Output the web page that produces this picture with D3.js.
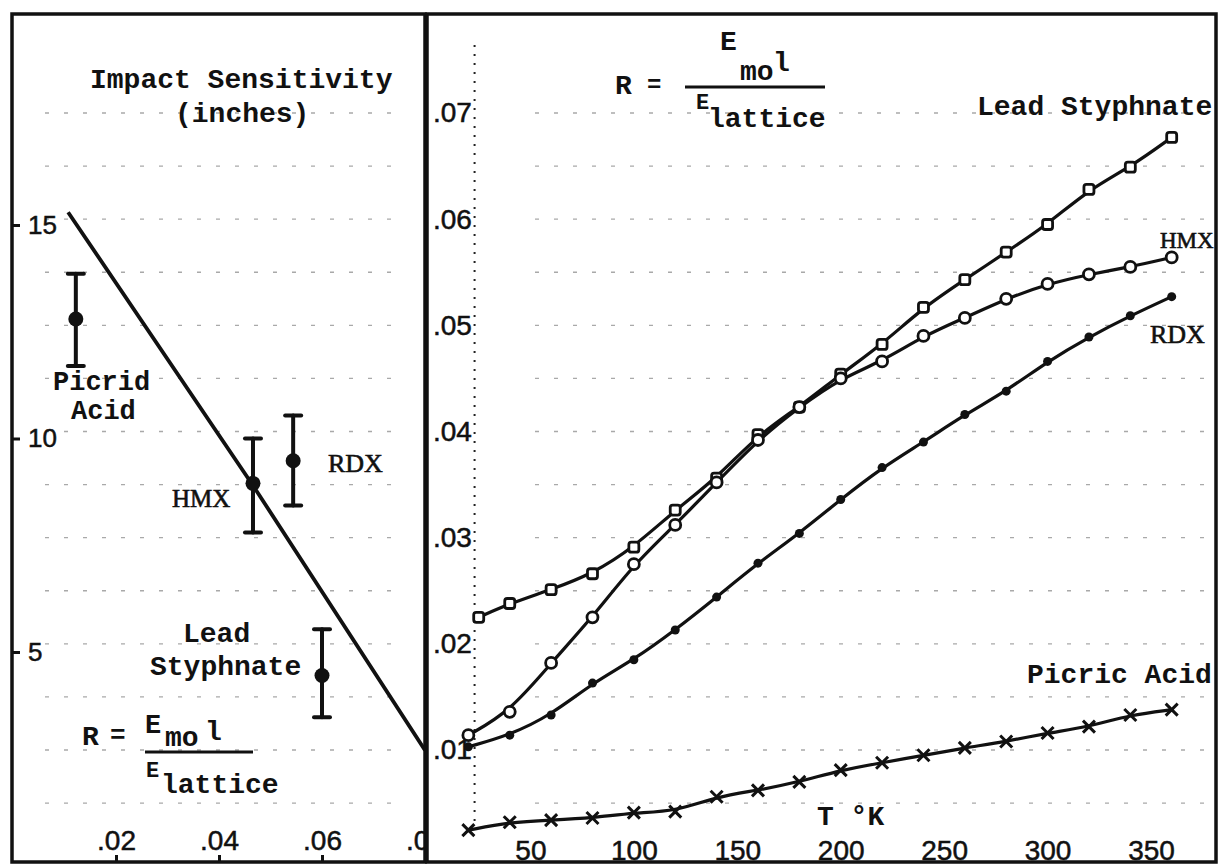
<!DOCTYPE html>
<html><head><meta charset="utf-8">
<script src="https://cdn.jsdelivr.net/npm/d3@7"></script>
<style>
body{margin:0;background:#fff}
.mono{font-family:"Liberation Mono","Courier New",monospace;font-weight:bold;fill:#111}
.serif{font-family:"Liberation Serif","Times New Roman",serif;fill:#111;stroke:#111;stroke-width:0.6}
.tick text{font-family:"Liberation Sans",Arial,sans-serif;fill:#111;stroke:#111;stroke-width:0.5}
</style>
</head><body>
<svg id="c" width="1221" height="865"></svg>
<script>
// ---------- Left panel: impact sensitivity vs R ----------
const leftXTicks = [0.02, 0.04, 0.06, 0.08];
const leftXTickLabels = [".02", ".04", ".06", ".08"];
const leftYTicks = [5, 10, 15];
const leftYTickLabels = ["5", "10", "15"];
const compounds = ["Picric Acid", "HMX", "RDX", "Lead Styphnate"];
const compoundR = [0.0122, 0.0466, 0.0544, 0.0600];
const impactMean = [12.8, 8.95, 9.48, 4.45];
const impactHigh = [13.86, 10.0, 10.54, 5.53];
const impactLow = [11.7, 7.8, 8.43, 3.47];
const fitR = [0.0107, 0.0466, 0.0800];
const fitImpact = [15.3, 8.9, 2.7];

// ---------- Right panel: R vs temperature ----------
const temperatures = [20,40,60,80,100,120,140,160,180,200,220,240,260,280,300,320,340,360];
const styphnateTemps = [25,40,60,80,100,120,140,160,180,200,220,240,260,280,300,320,340,360];
const leadStyphnateR = [0.0225,0.0238,0.0251,0.0266,0.0291,0.0326,0.0356,0.0397,0.0423,0.0454,0.0482,0.0517,0.0543,0.0569,0.0595,0.0628,0.0649,0.0677];
const hmxR = [0.0114,0.0136,0.0182,0.0225,0.0275,0.0312,0.0352,0.0392,0.0423,0.0450,0.0466,0.0490,0.0507,0.0525,0.0539,0.0548,0.0555,0.0564];
const rdxR = [0.0103,0.0114,0.0133,0.0163,0.0185,0.0213,0.0244,0.0276,0.0304,0.0336,0.0366,0.0390,0.0416,0.0438,0.0466,0.0489,0.0509,0.0527];
const picricR = [0.00245,0.0032,0.0034,0.0036,0.0041,0.0042,0.0056,0.0062,0.0070,0.0081,0.0088,0.0095,0.0102,0.0108,0.0116,0.0122,0.0133,0.0138];
const rightXTicks = [50,100,150,200,250,300,350];
const rightYTicks = [0.01,0.02,0.03,0.04,0.05,0.06,0.07];
const rightYTickLabels = [".01",".02",".03",".04",".05",".06",".07"];
const gridR = [0.005,0.01,0.015,0.02,0.025,0.03,0.035,0.04,0.045,0.05,0.055,0.06,0.065,0.07];

const svg = d3.select("#c");
svg.append("rect").attr("width",1221).attr("height",865).attr("fill","#fff");

const xL = d3.scaleLinear().domain([0,0.08]).range([13,425]);
const yL = d3.scaleLinear().domain([0,15]).range([865.5,225]);
const xR = d3.scaleLinear().domain([0,350]).range([427,1151]);
const yR = d3.scaleLinear().domain([0.01,0.07]).range([750,113]);

const defs = svg.append("defs");
defs.append("clipPath").attr("id","clipL").append("rect").attr("x",12).attr("y",14).attr("width",413).attr("height",848);
defs.append("clipPath").attr("id","clipR").append("rect").attr("x",427).attr("y",14).attr("width",789).attr("height",848);

// faint graph-paper dashes (shared across panels)
const grid = svg.append("g").attr("stroke","#555").attr("stroke-width",1.3).attr("stroke-dasharray","4,15").attr("opacity",0.5);
gridR.forEach(r => {
  const y = yR(r);
  if (y < 40 || y > 840) return;
  grid.append("line").attr("x1",45).attr("x2",405).attr("y1",y).attr("y2",y);
  grid.append("line").attr("x1",535).attr("x2",1205).attr("y1",y).attr("y2",y);
});

// ================= LEFT PANEL =================
const gL = svg.append("g").attr("clip-path","url(#clipL)");

const axL = gL.append("g").attr("transform","translate(12,0)")
  .call(d3.axisRight(yL).tickValues(leftYTicks).tickFormat((d,i)=>leftYTickLabels[i]).tickSize(8).tickPadding(8));
axL.select(".domain").remove();
axL.selectAll("line").attr("stroke","#111").attr("stroke-width",3);
axL.selectAll("text").attr("font-size",26);

const axLB = gL.append("g").attr("transform","translate(0,862)")
  .call(d3.axisTop(xL).tickValues(leftXTicks).tickFormat((d,i)=>leftXTickLabels[i]).tickSize(7).tickPadding(5));
axLB.select(".domain").remove();
axLB.selectAll("line").attr("stroke","#111").attr("stroke-width",3);
axLB.selectAll("text").attr("font-size",28);

// fitted line
const fitLine = d3.line().x((d,i)=>xL(fitR[i])).y((d,i)=>yL(fitImpact[i]));
gL.append("path").attr("d",fitLine(fitR)).attr("fill","none").attr("stroke","#111").attr("stroke-width",3.8);

// error bars
compounds.forEach((c,i) => {
  const x = xL(compoundR[i]);
  const g = gL.append("g").attr("stroke","#111").attr("stroke-width",4).attr("stroke-linecap","round");
  g.append("line").attr("x1",x).attr("x2",x).attr("y1",yL(impactHigh[i])).attr("y2",yL(impactLow[i]));
  g.append("line").attr("x1",x-8).attr("x2",x+8).attr("y1",yL(impactHigh[i])).attr("y2",yL(impactHigh[i]));
  g.append("line").attr("x1",x-8).attr("x2",x+8).attr("y1",yL(impactLow[i])).attr("y2",yL(impactLow[i]));
  gL.append("circle").attr("cx",x).attr("cy",yL(impactMean[i])).attr("r",7.5).attr("fill","#111");
});

const T = (g, txt, x, y, cls, size, anchor) => g.append("text").attr("class",cls).attr("x",x).attr("y",y)
  .attr("font-size",size).attr("text-anchor",anchor||"start").text(txt);
T(gL,"Impact Sensitivity",90,88,"mono",28);
T(gL,"(inches)",175,122,"mono",28);
T(gL,"Picrid",53,390,"mono",27);
T(gL,"Acid",71,419,"mono",27);
T(gL,"HMX",172,507,"serif",25);
T(gL,"RDX",328,472,"serif",26);
T(gL,"Lead",183,642,"mono",28);
T(gL,"Styphnate",150,675,"mono",28);
T(gL,"R",82,745,"mono",28);
T(gL,"=",110,743,"mono",26);
T(gL,"E",145,733,"mono",27);
T(gL,"mo",165,746,"mono",28);
T(gL,"l",205,740,"mono",28);
gL.append("line").attr("x1",145).attr("x2",253).attr("y1",752).attr("y2",752).attr("stroke","#111").attr("stroke-width",3);
T(gL,"E",146,777,"mono",22);
T(gL,"lattice",161,793,"mono",28);

// ================= RIGHT PANEL =================
const gR = svg.append("g").attr("clip-path","url(#clipR)");

gR.append("line").attr("x1",xR(23)).attr("x2",xR(23)).attr("y1",45).attr("y2",835)
  .attr("stroke","#222").attr("stroke-width",2).attr("stroke-dasharray","2,7");

const axR = gR.append("g").attr("transform","translate(428,0)")
  .call(d3.axisRight(yR).tickValues(rightYTicks).tickFormat((d,i)=>rightYTickLabels[i]).tickSize(0).tickPadding(5));
axR.select(".domain").remove();
axR.selectAll("text").attr("font-size",28);

const axRB = gR.append("g").attr("transform","translate(0,862)")
  .call(d3.axisTop(xR).tickValues(rightXTicks).tickSize(0).tickPadding(2));
axRB.select(".domain").remove();
axRB.selectAll("text").attr("font-size",28);

const curve = (xs, ys) => d3.line().curve(d3.curveBasis).x((d,i)=>xR(xs[i])).y((d,i)=>yR(ys[i]))(ys);
const pathStyle = p => p.attr("fill","none").attr("stroke","#111").attr("stroke-width",3.2);

pathStyle(gR.append("path").attr("d",curve(styphnateTemps,leadStyphnateR)));
pathStyle(gR.append("path").attr("d",curve(temperatures,hmxR)));
pathStyle(gR.append("path").attr("d",curve(temperatures,rdxR)));
pathStyle(gR.append("path").attr("d",curve(temperatures,picricR)));

gR.selectAll("rect.sq").data(leadStyphnateR).enter().append("rect").attr("class","sq")
  .attr("x",(d,i)=>xR(styphnateTemps[i])-5).attr("y",d=>yR(d)-5).attr("width",10).attr("height",10).attr("rx",2.5)
  .attr("fill","#fff").attr("stroke","#111").attr("stroke-width",2.8);
gR.selectAll("circle.hmx").data(hmxR).enter().append("circle").attr("class","hmx")
  .attr("cx",(d,i)=>xR(temperatures[i])).attr("cy",d=>yR(d)).attr("r",5.5)
  .attr("fill","#fff").attr("stroke","#111").attr("stroke-width",2.8);
gR.selectAll("circle.rdx").data(rdxR).enter().append("circle").attr("class","rdx")
  .attr("cx",(d,i)=>xR(temperatures[i])).attr("cy",d=>yR(d)).attr("r",4.5).attr("fill","#111");
gR.selectAll("path.cross").data(picricR).enter().append("path").attr("class","cross")
  .attr("d",(d,i)=>{const x=xR(temperatures[i]), y=yR(d); return `M${x-6},${y-6}L${x+6},${y+6}M${x-6},${y+6}L${x+6},${y-6}`;})
  .attr("stroke","#111").attr("stroke-width",3);

T(gR,"R",615,94,"mono",28);
T(gR,"=",647,92,"mono",24);
T(gR,"E",720,50,"mono",28);
T(gR,"mo",740,80,"mono",28);
T(gR,"l",773,71,"mono",28);
gR.append("line").attr("x1",685).attr("x2",825).attr("y1",87).attr("y2",87).attr("stroke","#111").attr("stroke-width",3);
T(gR,"E",696,109,"mono",22);
T(gR,"lattice",708,127,"mono",28);
T(gR,"Lead Styphnate",977,115,"mono",28);
T(gR,"HMX",1160,248,"serif",23);
T(gR,"RDX",1150,343,"serif",26);
T(gR,"Picric Acid",1027,683,"mono",28);
T(gR,"T °K",817,825,"mono",28);

svg.append("rect").attr("x",12).attr("y",14).attr("width",413).attr("height",848)
  .attr("fill","none").attr("stroke","#111").attr("stroke-width",3.5);
svg.append("rect").attr("x",427).attr("y",14).attr("width",789).attr("height",848)
  .attr("fill","none").attr("stroke","#111").attr("stroke-width",3.5);
</script>
</body></html>
